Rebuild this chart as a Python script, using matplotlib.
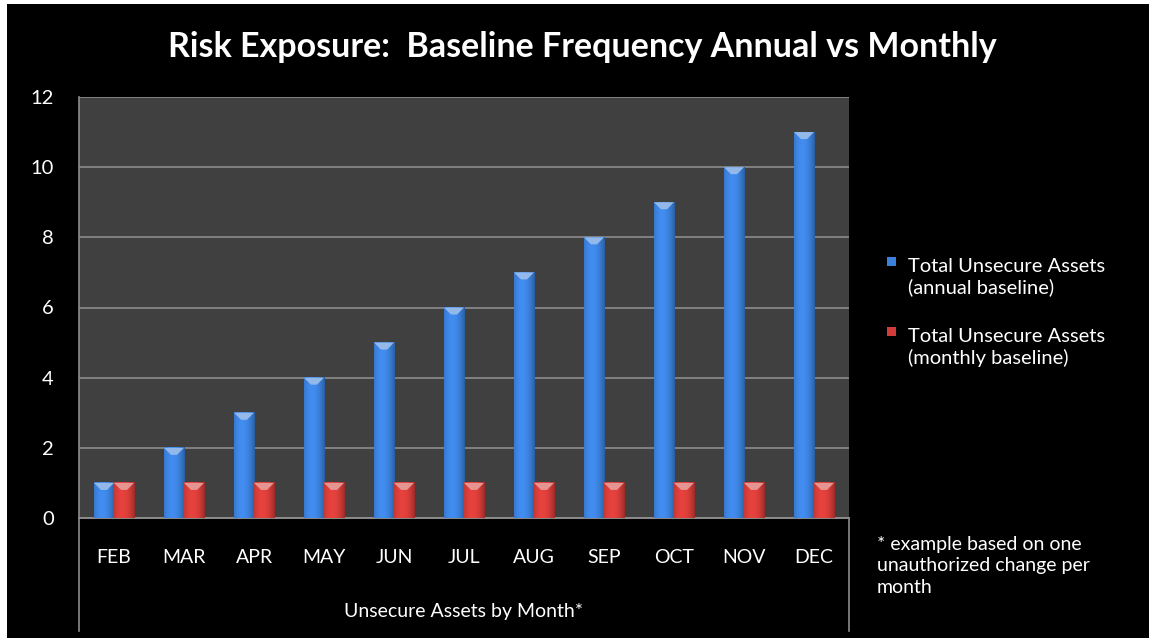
import matplotlib
matplotlib.use("Agg")
import matplotlib.pyplot as plt
import numpy as np
from matplotlib.patches import Rectangle, Polygon
from matplotlib.colors import to_rgb

plt.rcParams["font.family"] = ["Lato", "DejaVu Sans"]

months = ["FEB", "MAR", "APR", "MAY", "JUN", "JUL", "AUG", "SEP", "OCT", "NOV", "DEC"]
annual = [1, 2, 3, 4, 5, 6, 7, 8, 9, 10, 11]
monthly = [1, 1, 1, 1, 1, 1, 1, 1, 1, 1, 1]
series_names = ["Total Unsecure Assets\n(annual baseline)", "Total Unsecure Assets\n(monthly baseline)"]
series_colors = ["#3b80da", "#d23c38"]

title = "Risk Exposure:  Baseline Frequency Annual vs Monthly"
xlabel = "Unsecure Assets by Month*"
note = "* example based on one\nunauthorized change per\nmonth"

W, H = 1149, 640
fig = plt.figure(figsize=(W / 100, H / 100), dpi=100, facecolor="white")
fig.patches.append(Rectangle((7 / W, 2 / H), 1 - 7 / W, 1 - 6 / H, transform=fig.transFigure,
                             facecolor="black", edgecolor="none", zorder=-10))

ax = fig.add_axes([79 / W, 1 - 518 / H, 770 / W, 421 / H])
ax.set_facecolor("#404040")
ax.set_yticks(range(0, 13, 2))
ax.yaxis.grid(True, color="#8c8c8c", linewidth=1.2)
ax.set_axisbelow(True)
for s in ["top", "right"]:
    ax.spines[s].set_visible(False)
ax.spines["left"].set_color("#8c8c8c")
ax.spines["bottom"].set_color("#8c8c8c")
ax.spines["left"].set_linewidth(1.2)
ax.spines["bottom"].set_linewidth(1.4)
ax.tick_params(axis="y", length=0, pad=18, colors="white", labelsize=14.5)
ax.tick_params(axis="x", length=0, pad=22, colors="white", labelsize=14)
ax.set_xticks(range(len(months)))
ax.set_xticklabels(months)

# vertical separators of the category box below the plot
for xa in (0, 1):
    ax.plot([xa, xa], [0, -113 / 421], transform=ax.transAxes, color="#8c8c8c",
            linewidth=1.2, clip_on=False)

bw = 0.286
px_per_unit = 421 / 12
chev = 7 / px_per_unit
x = np.arange(len(months))


def shaded_bar(xc, h, color):
    base = np.array(to_rgb(color))
    prof = np.linspace(-1, 1, 40)
    shade = 0.85 + 0.25 * (1 - (prof + 0.2) ** 2)
    img = np.clip(base[None, :] * shade[:, None], 0, 1)[None, :, :]
    ax.imshow(img, extent=(xc - bw / 2, xc + bw / 2, 0, h), aspect="auto", zorder=3,
              interpolation="bilinear")
    light = np.clip(base + (1 - base) * 0.45, 0, 1)
    ax.add_patch(Polygon([(xc - bw / 2, h), (xc + bw / 2, h), (xc + bw * 0.15, h - chev),
                          (xc - bw * 0.15, h - chev)], closed=True,
                         facecolor=light, edgecolor="none", zorder=4))


for xi, a, m in zip(x, annual, monthly):
    shaded_bar(xi - bw / 2, a, series_colors[0])
    shaded_bar(xi + bw / 2, m, series_colors[1])
ax.set_xlim(-0.5, len(months) - 0.5)
ax.set_ylim(0, 12)

fig.text(582 / W, 1 - 47 / H, title, color="white", fontsize=24.5, fontweight="bold",
         ha="center", va="center")
fig.text(464 / W, 1 - 611 / H, xlabel, color="white", fontsize=14, ha="center", va="center")
fig.text(877 / W, 1 - 566 / H, note, color="white", fontsize=14, ha="left", va="center",
         linespacing=1.3)

# legend
for i, (name, col) in enumerate(zip(series_names, series_colors)):
    yc = 1 - (265 + i * 70) / H
    fig.patches.append(Rectangle((887 / W, yc - 1 / H), 9 / W, 9 / H, transform=fig.transFigure,
                                 facecolor=col, edgecolor="none"))
    fig.text(908 / W, yc + 7 / H, name, color="white", fontsize=14.5, ha="left", va="top",
             linespacing=1.25, transform=fig.transFigure)

fig.savefig("out.png", dpi=100, facecolor="white")
